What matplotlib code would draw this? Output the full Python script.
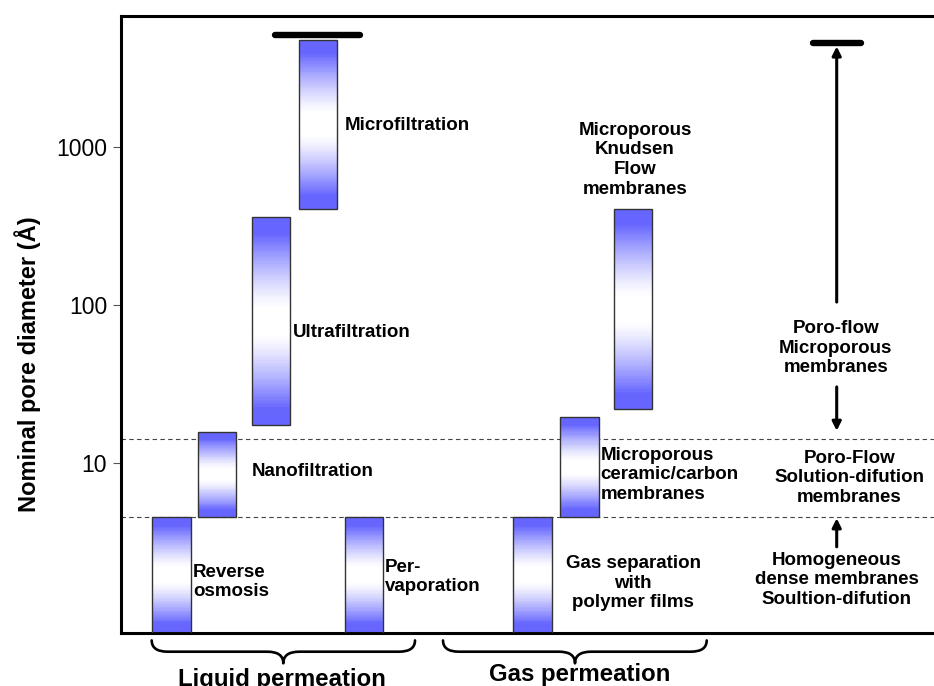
import numpy as np
import matplotlib
matplotlib.use("Agg")
import matplotlib.pyplot as plt
from matplotlib.path import Path
from matplotlib.patches import PathPatch

plt.rcParams['font.family'] = ['Liberation Sans', 'DejaVu Sans']

# pore size ranges (Angstrom)
bar_names = ["Reverse osmosis", "Nanofiltration", "Ultrafiltration", "Microfiltration",
             "Pervaporation", "Gas separation", "Microporous ceramic/carbon", "Knudsen flow"]
bar_low = [0.85, 4.6, 17.5, 410, 0.85, 0.85, 4.6, 22]
bar_high = [4.6, 15.8, 360, 4800, 4.6, 4.6, 19.7, 410]
regime_limits = [4.6, 14.2]
y_ticks = [10, 100, 1000]

# layout (x in pixel-like units from the left spine)
bar_x = [50.5, 96.2, 150, 197, 242.9, 411.7, 458.5, 512]
bar_w = 38.5
y_min, y_max = 0.85, 6776

BLUE = np.array([102, 102, 255]) / 255.0


def bar_colors(n):
    t = (np.arange(n) + 0.5) / n
    f = np.clip((np.abs(t - 0.5) - 0.06) / 0.36, 0, 1) ** 1.3
    return [tuple(1 - (1 - BLUE) * v) for v in f]


def gradient_bar(ax, x, lo, hi, n=90):
    edges = np.logspace(np.log10(lo), np.log10(hi), n + 1)
    ax.bar([x] * n, np.diff(edges), bottom=edges[:-1], width=bar_w,
           color=bar_colors(n), linewidth=0, antialiased=False, zorder=2)
    ax.bar(x, hi - lo, bottom=lo, width=bar_w, fill=False,
           edgecolor='#333333', linewidth=1.0, zorder=3)


def brace(ax, x0, x1, xc, y_top=-0.0125, y_mid=-0.0308, y_tip=-0.0496, d=16):
    verts = [(x0, y_top), (x0, y_mid), (x0 + d, y_mid),
             (xc - d, y_mid), (xc, y_mid), (xc, y_tip),
             (xc, y_mid), (xc + d, y_mid),
             (x1 - d, y_mid), (x1, y_mid), (x1, y_top)]
    codes = [Path.MOVETO, Path.CURVE3, Path.CURVE3,
             Path.LINETO, Path.CURVE3, Path.CURVE3,
             Path.CURVE3, Path.CURVE3,
             Path.LINETO, Path.CURVE3, Path.CURVE3]
    p = PathPatch(Path(verts, codes), transform=ax.get_xaxis_transform(),
                  fill=False, lw=1.9, color='black', clip_on=False,
                  capstyle='round', joinstyle='round')
    ax.add_patch(p)


fig = plt.figure(figsize=(9.34, 6.86), dpi=100)
ax = fig.add_axes([121 / 934, 1 - 632.7 / 686, 813 / 934, 616.7 / 686])
ax.set_yscale('log')
ax.set_xlim(0, 813)
ax.set_ylim(y_min, y_max)

for x, lo, hi in zip(bar_x, bar_low, bar_high):
    gradient_bar(ax, x, lo, hi)

for v in regime_limits:
    ax.axhline(v, color='#444444', lw=0.8, ls=(0, (4, 3)), zorder=1)

# thick caps
ax.plot([154, 239], [5140, 5140], color='black', lw=4.6, solid_capstyle='round', zorder=4)
ax.plot([692, 740], [4550, 4550], color='black', lw=4.6, solid_capstyle='round', zorder=4)

arrow = dict(arrowstyle='-|>', lw=2.2, color='black', mutation_scale=13,
             shrinkA=0, shrinkB=0)
ax.annotate('', xy=(715.7, 4350), xytext=(715.7, 105), arrowprops=arrow)
ax.annotate('', xy=(715.7, 16.1), xytext=(715.7, 30.5), arrowprops=arrow)
ax.annotate('', xy=(715.7, 4.5), xytext=(715.7, 2.97), arrowprops=arrow)

fs = 13.5
kw = dict(fontsize=fs, fontweight='bold', va='center', linespacing=1.2)
ax.text(224, 1365, "Microfiltration", ha='left', **kw)
ax.text(172, 67.8, "Ultrafiltration", ha='left', **kw)
ax.text(131, 8.85, "Nanofiltration", ha='left', **kw)
ax.text(72, 1.78, "Reverse\nosmosis", ha='left', **kw)
ax.text(264, 1.91, "Per-\nvaporation", ha='left', **kw)
ax.text(514, 836, "Microporous\nKnudsen\nFlow\nmembranes", ha='center', multialignment='center', **kw)
ax.text(479.7, 8.47, "Microporous\nceramic/carbon\nmembranes", ha='left', **kw)
ax.text(512, 1.75, "Gas separation\nwith\npolymer films", ha='center', multialignment='center', **kw)
ax.text(714.7, 53.5, "Poro-flow\nMicroporous\nmembranes", ha='center', multialignment='center', **kw)
ax.text(728.3, 8.11, "Poro-Flow\nSolution-difution\nmembranes", ha='center', multialignment='center', **kw)
ax.text(715.7, 1.84, "Homogeneous\ndense membranes\nSoultion-difution", ha='center', multialignment='center', **kw)

# braces and group labels
brace(ax, 30.7, 294, 162.3)
brace(ax, 322, 585.7, 454)
tr = ax.get_xaxis_transform()
ax.text(160.5, -0.086, "Liquid permeation", transform=tr, ha='center', va='baseline',
        fontsize=17.3, fontweight='bold', clip_on=False)
ax.text(459, -0.079, "Gas permeation", transform=tr, ha='center', va='baseline',
        fontsize=17.3, fontweight='bold', clip_on=False)

# axes styling
ax.set_yticks(y_ticks)
ax.set_yticklabels([str(t) for t in y_ticks])
ax.yaxis.set_minor_locator(matplotlib.ticker.NullLocator())
ax.set_xticks([])
ax.tick_params(axis='y', length=6, width=0.8, color='#555555', pad=4, labelsize=16.5)
for s in ['left', 'top', 'bottom']:
    ax.spines[s].set_linewidth(2.2)
ax.spines['right'].set_visible(False)
ax.set_ylabel("Nominal pore diameter (Å)", fontsize=17, fontweight='bold')
ax.yaxis.set_label_coords(-0.099, 0.435)

fig.savefig("out.png", dpi=100)
